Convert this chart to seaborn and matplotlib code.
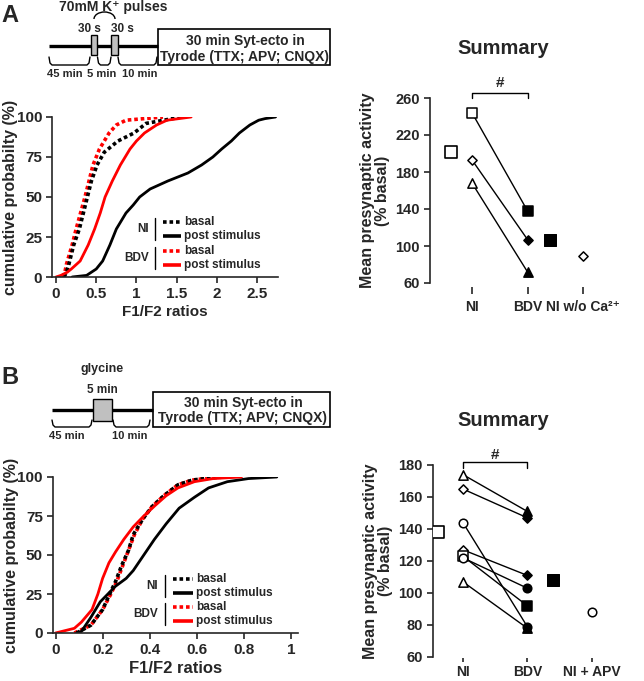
import numpy as np
import seaborn as sns
import matplotlib.pyplot as plt
import matplotlib.patches as mpatches
from matplotlib.patches import Arc

# ---- data ----
# panel A cumulative curves: percent levels and the F1/F2 ratio reached at each
a_ni_basal_pct = [0, 3, 8, 20, 30, 50, 60, 70, 78, 85, 90, 96, 100]
a_ni_basal_x = [0.10, 0.13, 0.16, 0.22, 0.29, 0.39, 0.44, 0.51, 0.60, 0.77, 0.97, 1.12, 1.56]
a_ni_post_pct = [0, 1, 5, 10, 20, 30, 40, 45, 50, 55, 60, 65, 70, 75, 80, 85, 90, 95, 98, 99, 100]
a_ni_post_x = [0.20, 0.38, 0.50, 0.58, 0.67, 0.75, 0.87, 0.96, 1.04, 1.17, 1.39, 1.64, 1.81,
               1.95, 2.06, 2.18, 2.28, 2.41, 2.52, 2.60, 2.73]
a_bdv_basal_pct = [0, 3, 8, 20, 30, 50, 60, 70, 80, 90, 95, 98, 100]
a_bdv_basal_x = [0.08, 0.11, 0.13, 0.20, 0.25, 0.36, 0.41, 0.46, 0.54, 0.66, 0.75, 0.87, 1.33]
a_bdv_post_pct = [0, 1, 3, 5, 10, 20, 30, 40, 50, 60, 70, 75, 80, 85, 90, 95, 98, 100]
a_bdv_post_x = [0.0, 0.06, 0.14, 0.19, 0.30, 0.40, 0.48, 0.55, 0.61, 0.70, 0.80, 0.86, 0.92,
                1.00, 1.10, 1.25, 1.38, 1.68]

# panel B cumulative curves
b_ni_basal_pct = [0, 5, 15, 25, 33, 43, 53, 63, 73, 81, 88, 95, 98, 99.5, 100]
b_ni_basal_x = [0.09, 0.15, 0.20, 0.23, 0.255, 0.28, 0.31, 0.33, 0.37, 0.41, 0.46, 0.52,
                0.58, 0.66, 0.72]
b_bdv_basal_pct = [0, 5, 15, 25, 33, 43, 53, 63, 73, 81, 88, 95, 98, 99.5, 100]
b_bdv_basal_x = [0.08, 0.15, 0.20, 0.235, 0.26, 0.285, 0.31, 0.335, 0.37, 0.41, 0.46, 0.52,
                 0.58, 0.66, 0.72]
b_ni_post_pct = [0, 1, 10, 20, 30, 35, 40, 50, 60, 70, 80, 87, 93, 97, 99, 100]
b_ni_post_x = [0.09, 0.11, 0.15, 0.19, 0.255, 0.30, 0.33, 0.375, 0.42, 0.47, 0.525, 0.59,
               0.65, 0.73, 0.82, 0.94]
b_bdv_post_pct = [0, 3, 7, 15, 25, 35, 45, 52, 60, 68, 75, 82, 88, 93, 97, 99, 100]
b_bdv_post_x = [0.0, 0.08, 0.11, 0.155, 0.18, 0.20, 0.227, 0.255, 0.29, 0.33, 0.375, 0.425,
                0.47, 0.52, 0.59, 0.67, 0.79]

# summary A (% basal)
a_ni = [244, 193, 168]
a_bdv = [138, 107, 72]
a_markers = ['s', 'D', '^']
a_means = [202, 106]
a_ctrl = 89
a_groups = ['NI', 'BDV', 'NI w/o Ca²⁺']

# summary B (% basal)
b_ni = [174, 165, 144, 127, 123, 122, 107]
b_bdv = [151, 147, 79, 111, 92, 103, 78]
b_markers = ['^', 'D', 'o', 'D', 's', 'o', '^']
b_means = [138, 108]
b_ctrl = 88
b_groups = ['NI', 'BDV', 'NI + APV']

# ---- style ----
sns.set_style('ticks')
plt.rcParams['font.family'] = ['Liberation Sans', 'DejaVu Sans']
plt.rcParams['font.weight'] = 'bold'
plt.rcParams['axes.labelweight'] = 'bold'
plt.rcParams['axes.linewidth'] = 1.2
plt.rcParams['xtick.major.width'] = 1.2
plt.rcParams['ytick.major.width'] = 1.2

W, H = 644, 681
fig = plt.figure(figsize=(W / 100, H / 100), dpi=100)


def box(l, r, t, b):
    return [l / W, 1 - b / H, (r - l) / W, (b - t) / H]


DOT = (0, (1.0, 0.8))


def cdf_panel(rect, curves, xlim, xticks, xticklabels, tsize, xlsize):
    ax = fig.add_axes(rect)
    for x, y, col, ls, lw in curves:
        sns.lineplot(x=x, y=y, color=col, linestyle=ls, linewidth=lw, ax=ax,
                     estimator=None, sort=False)
    ax.set_xlim(*xlim)
    ax.set_ylim(0, 100)
    ax.set_yticks([0, 25, 50, 75, 100])
    ax.set_xticks(xticks)
    ax.set_xticklabels(xticklabels)
    ax.tick_params(labelsize=tsize, length=4, width=1.2, pad=3)
    ax.set_xlabel('F1/F2 ratios', fontsize=xlsize, labelpad=3)
    ax.set_ylabel('cumulative probabilty (%)', fontsize=11.5, labelpad=-1)
    sns.despine(ax=ax)
    # custom legend
    tr = ax.transAxes
    rows = [(0.345, 'k', DOT, 'basal'), (0.255, 'k', '-', 'post stimulus'),
            (0.165, 'red', DOT, 'basal'), (0.075, 'red', '-', 'post stimulus')]
    for y, col, ls, lab in rows:
        ax.plot([0.49, 0.57], [y, y], color=col, linestyle=ls, lw=2.6, transform=tr,
                clip_on=False, solid_capstyle='butt')
        ax.text(0.585, y, lab, transform=tr, va='center', ha='left', fontsize=8.5)
    for ytop, ybot, lab in [(0.37, 0.23, 'NI'), (0.19, 0.05, 'BDV')]:
        ax.plot([0.456, 0.456], [ybot, ytop], color='k', lw=1, transform=tr)
        ax.text(0.43, (ytop + ybot) / 2, lab, transform=tr, va='center', ha='right',
                fontsize=8.5)
    return ax


def summary_panel(rect, ni, bdv, markers, means, ctrl, ctrl_marker, groups, xlim, ylim,
                  yticks, bracket, tsize, tick_off, tick_len, tick_pad):
    ax = fig.add_axes(rect)
    for n, b in zip(ni, bdv):
        ax.plot([0, 1], [n, b], color='k', lw=1, zorder=1)
    ms = {'s': 45, 'D': 22, '^': 45, 'o': 38}
    for n, b, m in zip(ni, bdv, markers):
        sns.scatterplot(x=[0], y=[n], marker=m, s=ms[m], facecolor='white', edgecolor='k',
                        linewidth=1.1, ax=ax, zorder=3)
        sns.scatterplot(x=[1], y=[b], marker=m, s=ms[m], color='k', edgecolor='k',
                        linewidth=1.1, ax=ax, zorder=3)
    sns.scatterplot(x=[-0.38], y=[means[0]], marker='s', s=80,
                    facecolor='white', edgecolor='k', linewidth=1.2, ax=ax, zorder=3)
    sns.scatterplot(x=[1.4], y=[means[1]], marker='s', s=80, color='k', edgecolor='k', ax=ax,
                    zorder=3)
    sns.scatterplot(x=[2], y=[ctrl], marker=ctrl_marker, s=ms[ctrl_marker],
                    facecolor='white', edgecolor='k', linewidth=1.1, ax=ax, zorder=3)
    ax.set_xlim(*xlim)
    ax.set_ylim(*ylim)
    ax.set_yticks(yticks)
    ax.set_xticks([0, 1, 2])
    ax.set_xticklabels(groups, fontsize=11.5)
    ax.tick_params(axis='y', labelsize=tsize, length=4, width=1.2)
    ax.tick_params(axis='x', length=tick_len, width=1.2, pad=tick_pad)
    sns.despine(ax=ax)
    ax.spines['bottom'].set_visible(False)
    ax.spines['bottom'].set_position(('outward', tick_off))
    ax.set_ylabel('Mean presynaptic activity\n(% basal)', fontsize=11.5, linespacing=1.0,
                  labelpad=4)
    yb, yl, yh = bracket
    ax.plot([0, 0, 1, 1], [yl, yb, yb, yl], color='k', lw=1, clip_on=False)
    ax.text(0.5, yh, '#', ha='center', va='center', fontsize=11)
    return ax


cdf_panel(box(52, 278, 117, 277),
          [(a_bdv_basal_x, a_bdv_basal_pct, 'red', DOT, 2.6),
           (a_ni_basal_x, a_ni_basal_pct, 'k', DOT, 2.6),
           (a_ni_post_x, a_ni_post_pct, 'k', '-', 2.0),
           (a_bdv_post_x, a_bdv_post_pct, 'red', '-', 2.0)],
          (-0.05, 2.76), [0, 0.5, 1, 1.5, 2, 2.5], ['0', '0.5', '1', '1.5', '2', '2.5'],
          11, 11)

cdf_panel(box(52.7, 298, 477, 633),
          [(b_bdv_basal_x, b_bdv_basal_pct, 'red', DOT, 2.6),
           (b_ni_basal_x, b_ni_basal_pct, 'k', DOT, 2.6),
           (b_ni_post_x, b_ni_post_pct, 'k', '-', 2.0),
           (b_bdv_post_x, b_bdv_post_pct, 'red', '-', 2.0)],
          (-0.012, 1.03), [0, 0.2, 0.4, 0.6, 0.8, 1], ['0', '0.2', '0.4', '0.6', '0.8', '1'],
          11, 12)

summary_panel(box(430, 600, 98, 283), a_ni, a_bdv, a_markers, a_means, a_ctrl, 'D', a_groups,
              (-0.757, 2.306), (60, 260), [60, 100, 140, 180, 220, 260], (265.7, 260.3, 276),
              10.5, 3, 5, 4)
summary_panel(box(433, 611, 465, 657), b_ni, b_bdv, b_markers, b_means, b_ctrl, 'o', b_groups,
              (-0.465, 2.3), (60, 180), [60, 80, 100, 120, 140, 160, 180], (181.9, 178.2, 186),
              10.5, 1, 3, 1.5)

# ---- protocol schematics and titles (pixel overlay) ----
ov = fig.add_axes([0, 0, 1, 1], facecolor='none')
ov.set_xlim(0, W)
ov.set_ylim(H, 0)
ov.axis('off')


def bracket(x0, x1, yt, yb):
    ov.plot([x0, x0 + 1, x0 + 3, x1 - 3, x1 - 1, x1], [yt, yb - 2, yb, yb, yb - 2, yt],
            color='k', lw=1)


# A
ov.text(9.5, 15, 'A', fontsize=17, ha='center', va='center')
ov.text(113, 7.5, '70mM K⁺ pulses', fontsize=10, ha='center', va='center')
ov.add_patch(Arc((104.5, 19), 21, 14, theta1=180, theta2=360, color='k', lw=1))
ov.text(89, 28.5, '30 s', fontsize=8.5, ha='center', va='center')
ov.text(122, 28.5, '30 s', fontsize=8.5, ha='center', va='center')
ov.plot([49, 158], [45.7, 45.7], color='k', lw=2.4, solid_capstyle='butt')
for x0, x1 in [(90.7, 97.3), (111, 117.7)]:
    ov.add_patch(mpatches.Rectangle((x0, 35), x1 - x0, 20, facecolor='#c0c0c0',
                                    edgecolor='k', lw=1, zorder=3))
ov.add_patch(mpatches.Rectangle((158, 29), 172, 36, facecolor='white', edgecolor='k', lw=1.2))
ov.text(245, 41.5, '30 min Syt-ecto in', fontsize=10, ha='center', va='center')
ov.text(245, 56.5, 'Tyrode (TTX; APV; CNQX)', fontsize=10, ha='center', va='center')
bracket(49, 90, 57, 65)
bracket(97.5, 111, 57, 65)
bracket(118, 157, 57, 65)
ov.text(65, 74, '45 min', fontsize=8, ha='center', va='center')
ov.text(102, 74, '5 min', fontsize=8, ha='center', va='center')
ov.text(140, 74, '10 min', fontsize=8, ha='center', va='center')

# B
ov.text(9.5, 377, 'B', fontsize=17, ha='center', va='center')
ov.text(102, 369, 'glycine', fontsize=9, ha='center', va='center')
ov.text(102, 390, '5 min', fontsize=8.5, ha='center', va='center')
ov.plot([51.7, 153], [410, 410], color='k', lw=2.4, solid_capstyle='butt')
ov.add_patch(mpatches.Rectangle((92.7, 399), 19, 21.7, facecolor='#c0c0c0', edgecolor='k',
                                lw=1, zorder=3))
ov.add_patch(mpatches.Rectangle((153, 391.7), 177, 35, facecolor='white', edgecolor='k',
                                lw=1.2))
ov.text(243, 403, '30 min Syt-ecto in', fontsize=10, ha='center', va='center')
ov.text(243, 418, 'Tyrode (TTX; APV; CNQX)', fontsize=10, ha='center', va='center')
bracket(52, 92, 420, 427)
bracket(113, 150, 420, 427)
ov.text(67, 436, '45 min', fontsize=8, ha='center', va='center')
ov.text(130, 436, '10 min', fontsize=8, ha='center', va='center')

ov.text(503, 48, 'Summary', fontsize=14.5, ha='center', va='center')
ov.text(503, 420, 'Summary', fontsize=14.5, ha='center', va='center')

fig.savefig('out.png', dpi=100)
